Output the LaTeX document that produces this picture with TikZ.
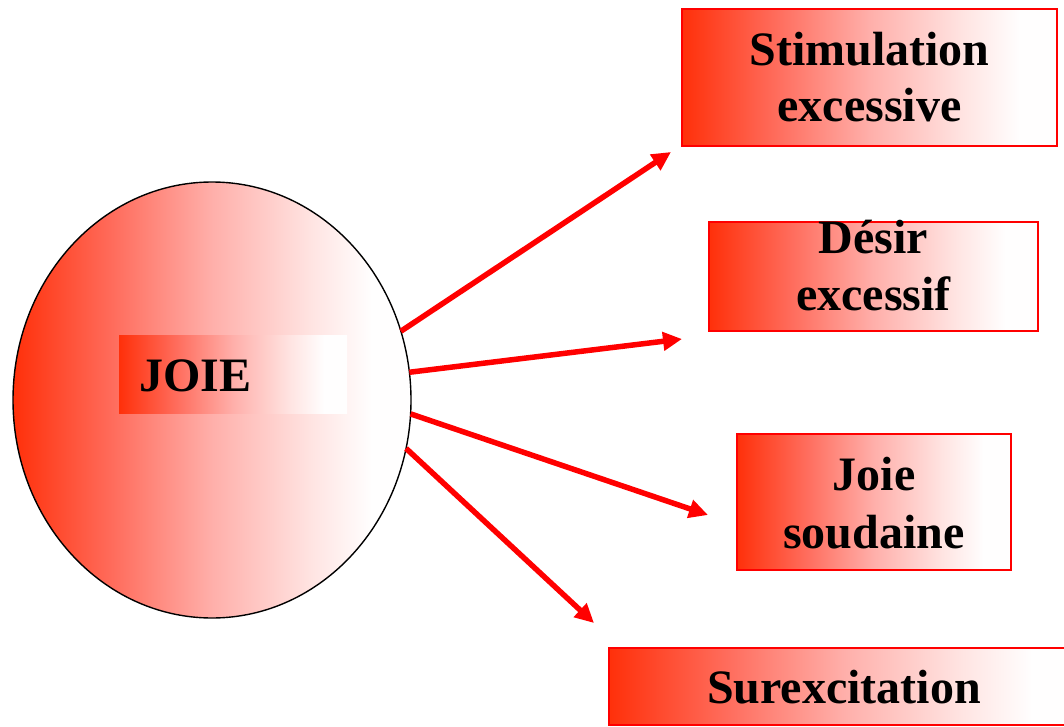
\documentclass[tikz,border=0pt]{standalone}
\usepackage{fontspec}
\setmainfont{Liberation Serif}
\usetikzlibrary{shapes.geometric,arrows.meta}
\definecolor{rl}{RGB}{255,48,10}
\definecolor{ra}{RGB}{255,108,92}
\definecolor{rb}{RGB}{255,175,170}
\definecolor{rc}{RGB}{255,228,226}
\definecolor{rd}{RGB}{255,254,254}
\pgfdeclarehorizontalshading{redwhite}{100bp}{color(0bp)=(rl); color(25bp)=(rl); color(37.5bp)=(ra); color(50bp)=(rb); color(62.5bp)=(rc); color(70bp)=(rd); color(100bp)=(rd)}
\tikzset{
  box/.style={draw=red, line width=1.6pt, shading=redwhite, inner sep=0pt, outer sep=0pt, anchor=north west},
  plainbox/.style={shading=redwhite, inner sep=0pt, outer sep=0pt, anchor=north west},
  lbl/.style={font=\fontsize{48}{56}\selectfont\bfseries, anchor=base, inner sep=0pt},
  arr/.style={draw=red, line width=5.5pt, -{Triangle[length=19pt,width=18pt]}},
}
\begin{document}
\begin{tikzpicture}[x=1pt,y=-1pt]
\useasboundingbox (0,0) rectangle (1064,727);
% central ellipse
\node[ellipse, draw=black, line width=1.4pt, shading=redwhite, minimum width=398pt, minimum height=436pt, inner sep=0pt, outer sep=0pt] (joie) at (212,400) {};
\node[plainbox, minimum width=228pt, minimum height=78pt] (joiebox) at (119,335) {};
\node[lbl, anchor=base west] (joietxt) at (139,391) {JOIE};
% boxes
\node[box, minimum width=375pt, minimum height=137pt] (b1) at (682,9) {};
\node[lbl] (b1a) at (869.5,66) {Stimulation};
\node[lbl] (b1b) at (869.5,122) {excessive};
\node[box, minimum width=329pt, minimum height=109pt] (b2) at (709,222) {};
\node[lbl] (b2a) at (873.5,253) {Désir};
\node[lbl] (b2b) at (873.5,310) {excessif};
\node[box, minimum width=274pt, minimum height=136pt] (b3) at (737,434) {};
\node[lbl] (b3a) at (874,490) {Joie};
\node[lbl] (b3b) at (874,548) {soudaine};
\node[box, minimum width=470pt, minimum height=77pt] (b4) at (609,648) {};
\node[lbl] (b4a) at (844,703) {Surexcitation};
% arrow tips
\coordinate (t1) at (671,152);
\coordinate (t2) at (682,339);
\coordinate (t3) at (708,515);
\coordinate (t4) at (594,623);
\draw[arr] (joie.20.6) -- (t1);
\draw[arr] (joie.8.9) -- (t2);
\draw[arr] (joie.-4.9) -- (t3);
\draw[arr] (joie.-14.1) -- (t4);
\end{tikzpicture}
\end{document}
